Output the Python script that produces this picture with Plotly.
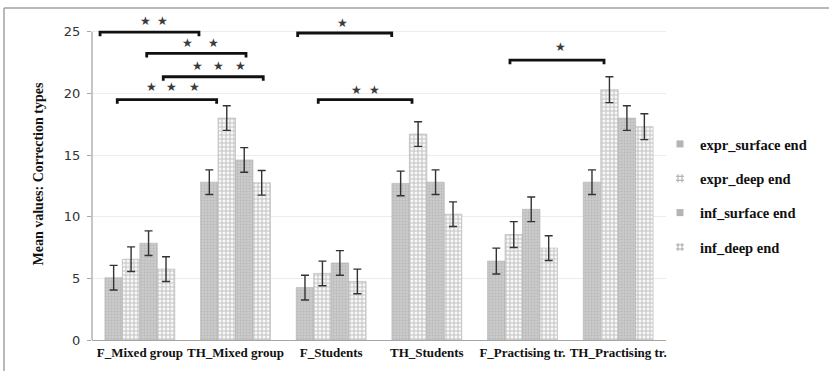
import plotly.graph_objects as go

categories = ["F_Mixed group", "TH_Mixed group", "F_Students", "TH_Students",
              "F_Practising tr.", "TH_Practising tr."]
series_names = ["expr_surface end", "expr_deep end", "inf_surface end", "inf_deep end"]

expr_surface = [5.05, 12.8, 4.25, 12.7, 6.4, 12.8]
expr_deep = [6.55, 18.0, 5.4, 16.7, 8.55, 20.3]
inf_surface = [7.85, 14.6, 6.25, 12.8, 10.6, 18.0]
inf_deep = [5.75, 12.75, 4.75, 10.2, 7.45, 17.3]

err_expr_surface = [1.0, 1.0, 1.0, 1.0, 1.05, 1.0]
err_expr_deep = [1.0, 1.0, 1.0, 1.0, 1.05, 1.05]
err_inf_surface = [1.0, 1.0, 1.0, 1.0, 1.0, 1.0]
err_inf_deep = [1.0, 1.0, 1.0, 1.0, 1.0, 1.05]

y_ticks = [0, 5, 10, 15, 20, 25]
y_title = "Mean values: Correction types"

# significance brackets: (x_start, x_end, y)
bracket_x0 = [-0.416, 0.072, 0.245, -0.236, 1.650, 1.865, 3.869]
bracket_x1 = [0.618, 1.110, 1.290, 0.803, 2.633, 2.845, 4.852]
bracket_y = [24.97, 23.25, 21.35, 19.5, 24.9, 19.5, 22.7]
# stars for each bracket
star_x = [[0.054, 0.242], [0.493, 0.775], [0.605, 0.819, 1.054],
          [0.124, 0.332, 0.569], [2.116], [2.267, 2.45], [4.392]]
star_y = [25.9, 24.05, 22.2, 20.5, 25.7, 20.3, 23.8]

values = [expr_surface, expr_deep, inf_surface, inf_deep]
errors = [err_expr_surface, err_expr_deep, err_inf_surface, err_inf_deep]

SERIF = "Liberation Serif, Times New Roman, serif"

surface_pattern = dict(shape=".", bgcolor="#cbcbcb", fgcolor="#a8a8a8", size=3, solidity=0.4)
deep_pattern = dict(shape="+", bgcolor="#f8f8f8", fgcolor="#8e8e8e", size=4, solidity=0.45)
patterns = [surface_pattern, deep_pattern, surface_pattern, deep_pattern]
legend_symbols = ["square", "hash-open", "square", "hash-open"]

fig = go.Figure()
for i, name in enumerate(series_names):
    fig.add_trace(go.Bar(
        x=categories, y=values[i], name=name, legendgroup=name, showlegend=False,
        marker=dict(color=patterns[i]["bgcolor"], pattern=patterns[i],
                    line=dict(color="#b0b0b0", width=0.6)),
        error_y=dict(type="data", array=errors[i], visible=True,
                     color="#333333", thickness=1.4, width=4),
    ))
# legend swatches (small square / hash glyph as in the original)
for i, name in enumerate(series_names):
    is_deep = legend_symbols[i] != "square"
    fig.add_trace(go.Scatter(
        x=[None], y=[None], mode="markers", name=f"<b>{name}</b>", legendgroup=name,
        marker=dict(symbol=legend_symbols[i], size=8 if is_deep else 7,
                    color="#b4b4b4" if not is_deep else "#a8a8a8",
                    line=dict(color="#a8a8a8", width=1 if is_deep else 0)),
    ))

shapes = []
GRAY = "#a6a6a6"
# y axis line from 0 to 25
shapes.append(dict(type="line", xref="paper", yref="y", x0=0, x1=0, y0=0, y1=25,
                   line=dict(color=GRAY, width=1.3)))
# outer frame (top and left)
fx = (4 - 92) / 574
fy = (340 - 8) / 327
shapes.append(dict(type="line", xref="paper", yref="paper", x0=fx, x1=1.3,
                   y0=fy, y1=fy, line=dict(color="#a0a0a0", width=1.5)))
shapes.append(dict(type="line", xref="paper", yref="paper", x0=fx, x1=fx,
                   y0=fy, y1=-0.2, line=dict(color="#a0a0a0", width=1.5)))

annotations = []
tick_h = 0.33
for x0, x1, yb, sx, sy in zip(bracket_x0, bracket_x1, bracket_y, star_x, star_y):
    shapes.append(dict(type="path", xref="x", yref="y",
                       path=f"M {x0},{yb - tick_h} L {x0},{yb} L {x1},{yb} L {x1},{yb - tick_h}",
                       line=dict(color="#111111", width=2.8)))
    for xs in sx:
        annotations.append(dict(x=xs, y=sy, xref="x", yref="y", text="★", showarrow=False,
                                font=dict(family="DejaVu Sans", size=12, color="#3a3a3a")))

annotations.append(dict(x=(28 - 92) / 574, y=(340 - 174) / 327, xref="paper", yref="paper",
                        text=f"<b>{y_title}</b>", textangle=-90, showarrow=False,
                        font=dict(family=SERIF, size=14, color="#111111")))

fig.update_layout(
    width=829, height=371,
    margin=dict(l=92, r=163, t=13, b=31),
    paper_bgcolor="white", plot_bgcolor="white",
    barmode="group", bargap=0.27, bargroupgap=0,
    showlegend=True,
    legend=dict(x=(660 - 92) / 574, y=(340 - 128) / 327, xanchor="left", yanchor="top",
                font=dict(family=SERIF, size=14.5, color="#111111"),
                tracegroupgap=12.5, bgcolor="rgba(0,0,0,0)", itemwidth=30),
    shapes=shapes,
    annotations=annotations,
    xaxis=dict(range=[-0.5, 5.5], showline=True, linecolor=GRAY, linewidth=1.3,
               showgrid=False, ticks="",
               tickvals=list(range(len(categories))),
               ticktext=[f"<b>{c}</b>" for c in categories],
               tickfont=dict(family=SERIF, size=13, color="#111111")),
    yaxis=dict(range=[0, 327 / 12.33], tickvals=y_ticks, showgrid=True, gridcolor="#ececec",
               gridwidth=1, zeroline=False, showline=False, ticks="outside", ticklen=4,
               tickcolor=GRAY, ticklabelstandoff=4,
               tickfont=dict(family="DejaVu Sans", size=13, color="#333333")),
)

fig.write_html("out.html", config={"displayModeBar": False},
               post_script="document.body.style.margin='0px';")
